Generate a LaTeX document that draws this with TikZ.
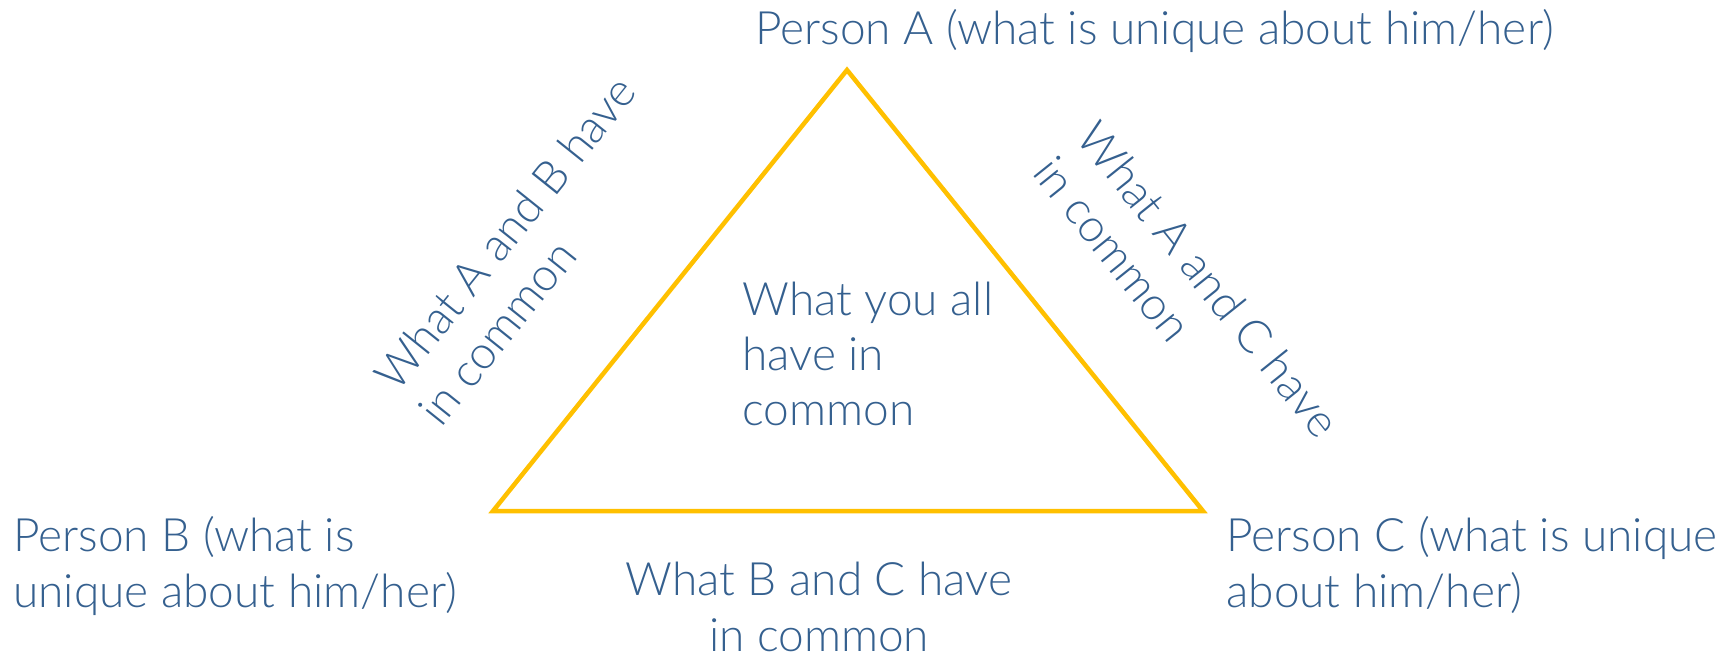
\documentclass[tikz,border=0pt]{standalone}
\usepackage{fontspec}
\setmainfont{Lato}[UprightFont=* Light]
\begin{document}
\definecolor{txtblue}{HTML}{35608F}
\definecolor{edgeyellow}{HTML}{FFC000}
\begin{tikzpicture}[x=0.5pt,y=-0.5pt,
  lbl/.style={inner sep=0pt, text=txtblue, align=left,
    font=\fontsize{23}{28}\selectfont},
  edge/.style={draw=edgeyellow, line width=2.25pt, line join=miter}]
\useasboundingbox (0,0) rectangle (1736,653);
% triangle corners
\coordinate (A) at (847,70);
\coordinate (B) at (493,511);
\coordinate (C) at (1203,511);
\draw[edge] (A) -- (B) -- (C) -- cycle;
% corner labels (base anchor sits on the last line)
\node[lbl, anchor=base west] (pa) at (755,45) {Person A (what is unique about him/her)};
\node[lbl, anchor=base west] (pb) at (13,607) {Person B (what is\\unique about him/her)};
\node[lbl, anchor=base west] (pc) at (1226,607) {Person C (what is unique\\about him/her)};
% centre label
\node[lbl, anchor=base west, font=\fontsize{23}{27.5}\selectfont] (all) at (742,425) {What you all\\have in\\common};
% side labels
\node[lbl, anchor=base west, rotate=51.3] (ab) at (441,429) {What A and B have\\in common};
\node[lbl, anchor=base west, rotate=-51.3] (ac) at (1031,173) {What A and C have\\in common};
\node[lbl, anchor=base, align=center] (bc) at (819,651) {What B and C have\\in common};
\end{tikzpicture}
\end{document}
